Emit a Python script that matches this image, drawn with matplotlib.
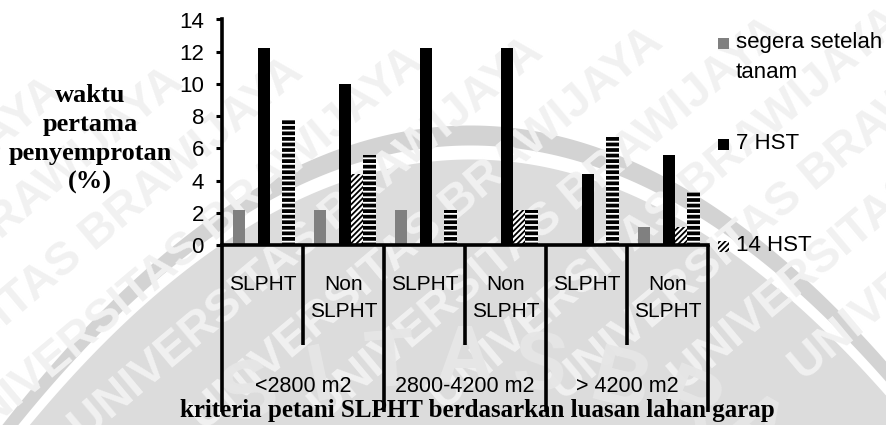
import numpy as np
import matplotlib
matplotlib.use("Agg")
import matplotlib.pyplot as plt
from matplotlib.patches import Rectangle

plt.rcParams['font.family'] = ['Liberation Sans', 'DejaVu Sans']
plt.rcParams['hatch.linewidth'] = 1.3

# data
sub_labels = ['SLPHT', 'Non\nSLPHT', 'SLPHT', 'Non\nSLPHT', 'SLPHT', 'Non\nSLPHT']
group_labels = ['<2800 m2', '2800-4200 m2', '> 4200 m2']
segera = [2.2, 2.2, 2.2, 0, 0, 1.1]
hst7 = [12.2, 10.0, 12.2, 12.2, 4.4, 5.6]
hst14 = [0, 4.4, 0, 2.2, 0, 1.1]
hst21 = [7.8, 5.6, 2.2, 2.2, 6.7, 3.3]
yticks = [0, 2, 4, 6, 8, 10, 12, 14]

W, H = 887, 425
fig = plt.figure(figsize=(W / 100, H / 100), dpi=100)
fig.patch.set_facecolor('white')

# latar watermark
bg = fig.add_axes([0, 0, 1, 1], zorder=-5)
bg.set_xlim(0, W)
bg.set_ylim(H, 0)
bg.axis('off')
xs = np.linspace(0, W, 300)
y0 = 125 + 0.001367 * (xs - 470) ** 2
bg.fill_between(xs, y0, y0 + 20, color='#d3d3d3', lw=0, zorder=1)
bg.fill_between(xs, y0 + 34, H + 50, color='#dcdcdc', lw=0, zorder=1)
for i in range(-3, 9):
    bg.text(-150 + i * 120, 470 - i * 10, 'UNIVERSITAS BRAWIJAYA', rotation=40,
            fontsize=34, fontweight='bold', color='#f1f1f1', ha='left', va='bottom',
            rotation_mode='anchor', clip_on=True, zorder=1.5)
for ch, (px, py_, rot) in zip('SITAS', [(250, 395, 20), (320, 378, 12), (390, 365, 5),
                                     (465, 360, 0), (540, 368, -6)]):
    bg.text(px, py_, ch, fontsize=58, fontweight='bold', color='#e6e6e6',
            rotation=rot, ha='center', va='center', zorder=1.5)
for ch, (px, py_, rot) in zip('BRA', [(620, 385, -14), (690, 405, -22), (755, 430, -30)]):
    bg.text(px, py_, ch, fontsize=58, fontweight='bold', color='#e6e6e6',
            rotation=rot, ha='center', va='center', zorder=1.5)

ax = fig.add_axes([222 / W, 1 - 245 / H, 486 / W, 225.5 / H])
ax.patch.set_facecolor('none')

x = np.arange(len(sub_labels))
bw = 0.152
ax.bar(x - 0.288, segera, bw, color='#808080', lw=0)
ax.bar(x + 0.016, hst7, bw, color='black', lw=0)
ax.bar(x + 0.168, hst14, bw, color='white', edgecolor='black', hatch='//////', lw=0)
ax.bar(x + 0.320, hst21, bw, color='black', edgecolor='white', hatch='---', lw=0)

ax.set_xlim(-0.5, 5.5)
ax.set_ylim(0, 14)
ax.set_yticks(yticks)
ax.tick_params(axis='y', direction='out', length=4, width=2.2, labelsize=16, pad=9)
ax.set_xticks([])
for s in ['top', 'right']:
    ax.spines[s].set_visible(False)
ax.spines['left'].set_linewidth(2.6)
ax.spines['bottom'].set_linewidth(2.6)
ax.spines['bottom'].set_capstyle('projecting')

# sumbu kategori bertingkat
tr = ax.get_xaxis_transform()
def py(p):
    return (245 - p) / 225.5
for b in range(7):
    xb = b - 0.5
    bottom = 412 if b % 2 == 0 else 345
    ax.plot([xb, xb], [0, py(bottom)], color='black', lw=2.6, transform=tr,
            clip_on=False, solid_capstyle='butt')
for i, lab in enumerate(sub_labels):
    ax.text(i, py(275), lab, transform=tr, ha='center', va='top', fontsize=15,
            linespacing=1.55)
for j, lab in enumerate(group_labels):
    ax.text(2 * j + 0.5, py(386), lab, transform=tr, ha='center', va='center',
            fontsize=15.5)

fig.text(477 / W, 1 - 410 / H, 'kriteria petani SLPHT berdasarkan luasan lahan garap',
         ha='center', va='center', fontsize=18, fontweight='bold',
         family=['Liberation Serif', 'DejaVu Serif'])
fig.text(90 / W, 1 - 139 / H, 'waktu\npertama\npenyemprotan\n(%)', ha='center',
         va='center', fontsize=19, fontweight='bold', linespacing=1.32,
         family=['Liberation Serif', 'DejaVu Serif'])

# legenda
leg = [('#808080', None, None, 'segera setelah\ntanam', 43),
       ('black', None, None, '7 HST', 144),
       ('white', 'black', '//////', '14 HST', 246)]
for fc, ec, hatch, lab, yc in leg:
    bg.add_patch(Rectangle((718, yc - 5), 11, 11, facecolor=fc,
                           edgecolor=ec if ec else fc, hatch=hatch, lw=0, zorder=5))
    bg.text(736, yc - 11, lab, ha='left', va='top', fontsize=16, linespacing=1.55,
            zorder=5)

fig.savefig('out.png', dpi=100, facecolor='white')
